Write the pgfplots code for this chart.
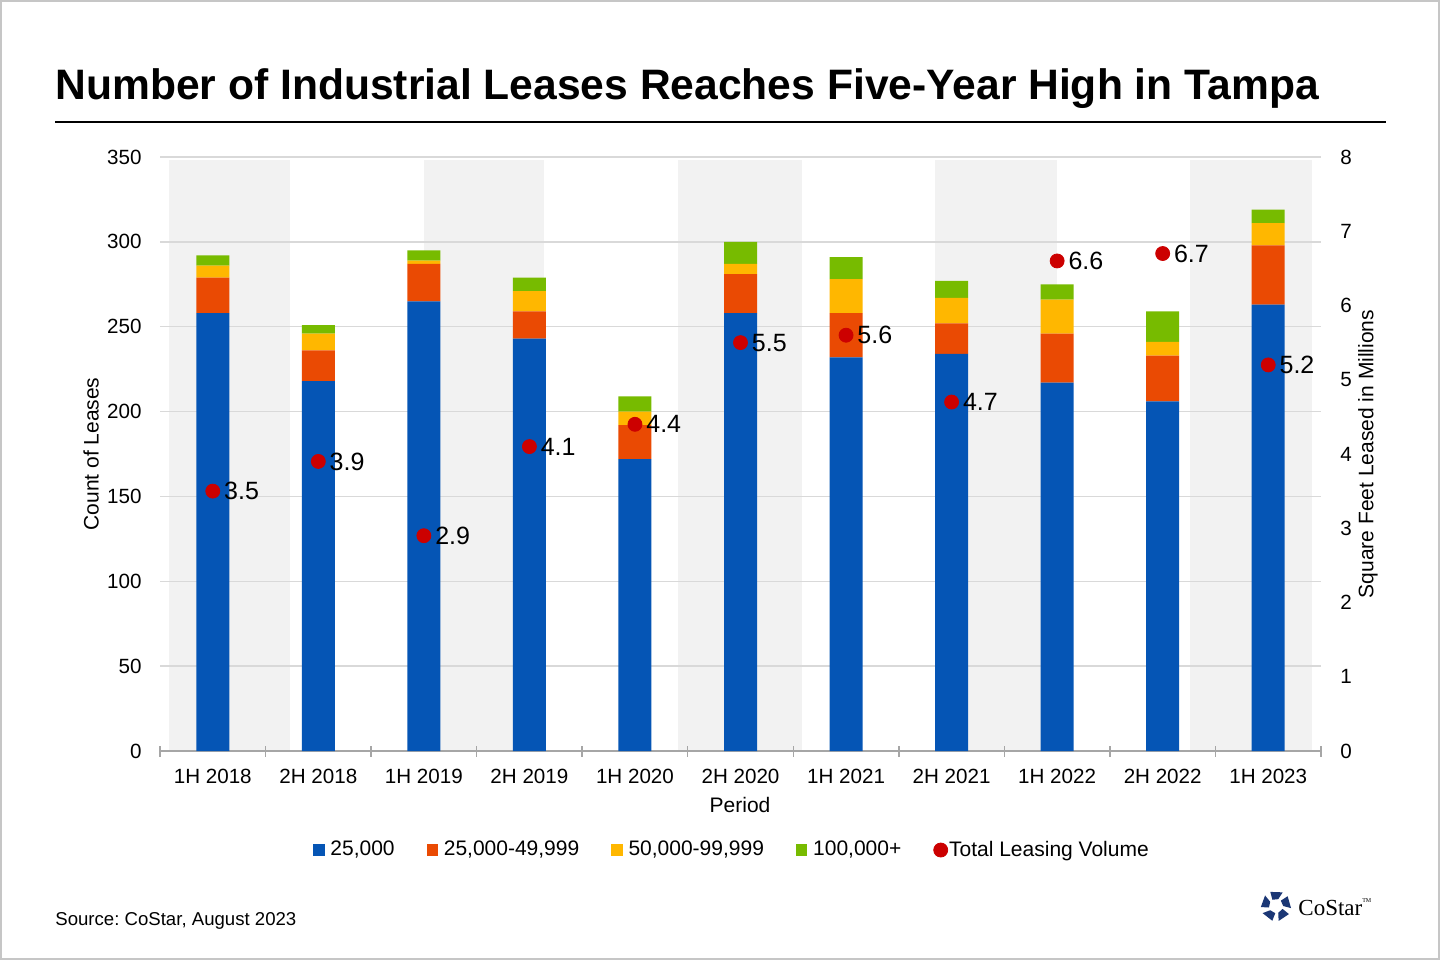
\documentclass[border=0pt]{standalone}
\usepackage{fontspec}
\setmainfont{Liberation Sans}
\newfontfamily\costarfont{Liberation Serif}
\usepackage{pgfplots}
\pgfplotsset{compat=1.18}
\frenchspacing
\definecolor{cblue}{RGB}{5,85,181}
\definecolor{corange}{RGB}{234,74,3}
\definecolor{cyellow}{RGB}{255,183,0}
\definecolor{cgreen}{RGB}{119,187,0}
\definecolor{cred}{RGB}{204,0,0}
\definecolor{bandgray}{RGB}{242,242,242}
\definecolor{gridgray}{RGB}{217,217,217}
\definecolor{axisgray}{RGB}{166,166,166}
\definecolor{logoblue}{RGB}{27,55,117}
\pgfplotsset{
  /pgf/number format/assume math mode=true,
  base/.style={
    at={(80pt,104.5pt)}, anchor=south west,
    width=580.5pt, height=297pt, scale only axis,
    xmin=-0.5, xmax=10.5, enlargelimits=false,
  },
}
\begin{document}
\begin{tikzpicture}
\useasboundingbox (0,0) rectangle (720pt,480pt);
\fill[white] (0,0) rectangle (720pt,480pt);
\draw[gray!45, line width=1.2pt] (0.6pt,0.6pt) rectangle (719.4pt,479.4pt);
% title
\node[anchor=base west, inner sep=0pt, font=\bfseries\fontsize{21.3pt}{25pt}\selectfont] at (27.5pt,430pt)
  {Number of Industrial Leases Reaches Five-Year High in Tampa};
\draw[black, line width=1pt] (27.5pt,419pt) -- (693pt,419pt);
% bands
\begin{axis}[base, ymin=0, ymax=350, hide axis]
\addplot[fill=bandgray, draw=none] coordinates {(-0.415,0) (-0.415,348) (0.732,348) (0.732,0)} -- cycle;
\addplot[fill=bandgray, draw=none] coordinates {(2.002,0) (2.002,348) (3.139,348) (3.139,0)} -- cycle;
\addplot[fill=bandgray, draw=none] coordinates {(4.409,0) (4.409,348) (5.584,348) (5.584,0)} -- cycle;
\addplot[fill=bandgray, draw=none] coordinates {(6.845,0) (6.845,348) (8.002,348) (8.002,0)} -- cycle;
\addplot[fill=bandgray, draw=none] coordinates {(9.262,0) (9.262,348) (10.419,348) (10.419,0)} -- cycle;
\end{axis}
% bars
\begin{axis}[base, ymin=0, ymax=350,
  ybar stacked, bar width=16.5pt,
  axis x line*=bottom, axis y line*=left,
  x axis line style={-, draw=axisgray, line width=1.3pt},
  y axis line style={draw=none},
  ytick={0,50,...,350}, ymajorgrids,
  grid style={draw=gridgray, line width=0.65pt},
  ytick style={draw=none},
  xtick={0,...,10},
  xticklabels={1H 2018,2H 2018,1H 2019,2H 2019,1H 2020,2H 2020,1H 2021,2H 2021,1H 2022,2H 2022,1H 2023},
  minor xtick={-0.5,0.5,...,10.5},
  tick align=center, major tick length=0pt, minor tick length=5.5pt,
  minor x tick style={draw=axisgray, line width=0.75pt},
  xtick style={draw=none},
  tick label style={font=\fontsize{10.3pt}{12pt}\selectfont},
  yticklabel style={anchor=east, inner sep=0pt, xshift=-9pt},
  xticklabel style={anchor=north, inner sep=0pt, yshift=-9pt},
  xlabel={Period},
  xlabel style={at={(axis description cs:0.4996,-0.0909)}, anchor=center, font=\fontsize{10.5pt}{12pt}\selectfont},
  ylabel={Count of Leases},
  ylabel style={at={(axis description cs:-0.0594,0.5)}, anchor=center, font=\fontsize{10.5pt}{12pt}\selectfont},
]
\addplot[fill=cblue, draw=none] coordinates {(0,258) (1,218) (2,265) (3,243) (4,172) (5,258) (6,232) (7,234) (8,217) (9,206) (10,263)};
\addplot[fill=corange, draw=none] coordinates {(0,21) (1,18) (2,22) (3,16) (4,20) (5,23) (6,26) (7,18) (8,29) (9,27) (10,35)};
\addplot[fill=cyellow, draw=none] coordinates {(0,7) (1,10) (2,2) (3,12) (4,8) (5,6) (6,20) (7,15) (8,20) (9,8) (10,13)};
\addplot[fill=cgreen, draw=none] coordinates {(0,6) (1,5) (2,6) (3,8) (4,9) (5,13) (6,13) (7,10) (8,9) (9,18) (10,8)};
\end{axis}
% dots
\begin{axis}[base, ymin=0, ymax=8, clip=false,
  axis x line=none, axis y line*=right,
  y axis line style={draw=none}, ytick style={draw=none},
  ytick={0,1,...,8},
  tick label style={font=\fontsize{10.3pt}{12pt}\selectfont},
  yticklabel style={anchor=west, inner sep=0pt, xshift=9.5pt},
  ylabel={Square Feet Leased in Millions},
  ylabel style={at={(axis description cs:1.0405,0.5)}, anchor=center, rotate=0, font=\fontsize{10.5pt}{12pt}\selectfont},
  legend style={at={(0.4918,-0.1667)}, anchor=center, draw=none, fill=none,
    legend columns=5, font=\fontsize{10.5pt}{12pt}\selectfont,
    nodes={inner sep=0pt},
    /tikz/every odd column/.append style={column sep=3pt},
    /tikz/every even column/.append style={column sep=16pt}},
]
\addlegendimage{legend image code/.code={\fill[cblue] (0pt,-2.6pt) rectangle (5.2pt,2.6pt);}}
\addlegendentry{25,000}
\addlegendimage{legend image code/.code={\fill[corange] (0pt,-2.6pt) rectangle (5.2pt,2.6pt);}}
\addlegendentry{25,000-49,999}
\addlegendimage{legend image code/.code={\fill[cyellow] (0pt,-2.6pt) rectangle (5.2pt,2.6pt);}}
\addlegendentry{50,000-99,999}
\addlegendimage{legend image code/.code={\fill[cgreen] (0pt,-2.6pt) rectangle (5.2pt,2.6pt);}}
\addlegendentry{100,000+}
\addplot[only marks, mark=*, mark size=3.5pt, color=cred,
  legend image code/.code={\path (0pt,0pt) -- (4.5pt,0pt); \fill[cred, overlay] (3.5pt,0pt) circle (3.5pt);},
  nodes near coords={\pgfmathprintnumber[fixed,fixed zerofill,precision=1]{\pgfplotspointmeta}},
  nodes near coords style={anchor=west, inner sep=0pt, xshift=5.5pt, text=black, font=\fontsize{12.5pt}{14pt}\selectfont},
  point meta=y]
  coordinates {(0,3.5) (1,3.9) (2,2.9) (3,4.1) (4,4.4) (5,5.5) (6,5.6) (7,4.7) (8,6.6) (9,6.7) (10,5.2)};
\addlegendentry{Total Leasing Volume}
\end{axis}
% source
\node[anchor=base west, inner sep=0pt, font=\fontsize{9.3pt}{11pt}\selectfont] at (27.5pt,17.5pt) {Source: CoStar, August 2023};
% logo
\begin{scope}[shift={(638pt,27pt)}]
\foreach \a in {90,162,234,306,378}{
  \fill[logoblue] (\a-26:7.6pt) -- (\a+22:7.6pt) -- (\a+30:3.6pt) -- (\a-18:3.6pt) -- cycle;
}
\end{scope}
\node[anchor=base west, inner sep=0pt, font=\costarfont\fontsize{11.5pt}{13pt}\selectfont] at (649pt,22.5pt) {CoStar\raisebox{0.55em}{\fontsize{3pt}{3pt}\selectfont TM}};
\end{tikzpicture}
\end{document}
